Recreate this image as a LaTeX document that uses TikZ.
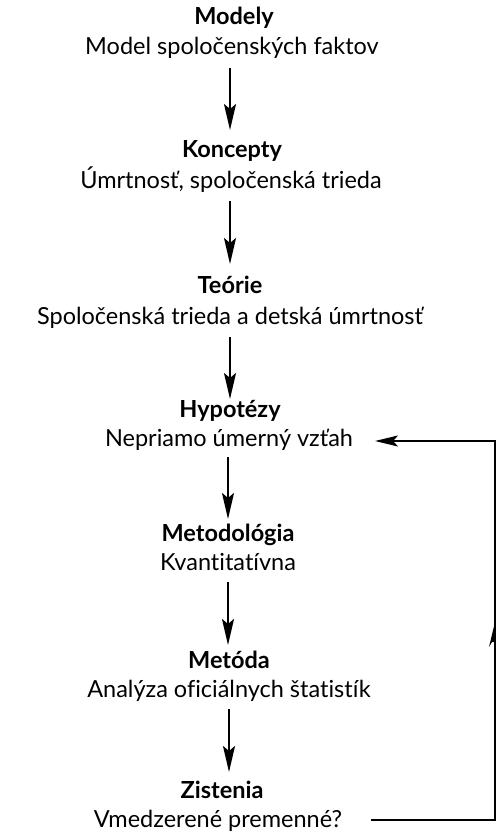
\documentclass[tikz,border=0pt]{standalone}
\usepackage{fontspec}
\setmainfont{Lato}[Ligatures=NoCommon]
\usetikzlibrary{arrows.meta}
\begin{document}
\begin{tikzpicture}[x=1pt,y=-1pt,
  head/.style={font=\fontsize{23.5}{26}\selectfont\bfseries, inner sep=0pt, anchor=base},
  body/.style={font=\fontsize{23.5}{26}\selectfont, inner sep=0pt, anchor=base},
  flow/.style={line width=2.2pt, -{Stealth[length=26pt,width=12pt,inset=5pt]}},
  fb/.style={line width=1.9pt}]
\useasboundingbox (0,0) rectangle (499,834);
\node[head] (h1) at (234,25) {Modely};
\node[body] (b1) at (232,55) {Model spoločenských faktov};
\node[head] (h2) at (232,158) {Koncepty};
\node[body] (b2) at (231,189) {Úmrtnosť, spoločenská trieda};
\node[head] (h3) at (230,293) {Teórie};
\node[body] (b3) at (230,324) {Spoločenská trieda a detská úmrtnosť};
\node[head] (h4) at (230,417) {Hypotézy};
\node[body] (b4) at (229,446) {Nepriamo úmerný vzťah};
\node[head] (h5) at (228,541) {Metodológia};
\node[body] (b5) at (228,570) {Kvantitatívna};
\node[head] (h6) at (229,668) {Metóda};
\node[body] (b6) at (229,697) {Analýza oficiálnych štatistík};
\node[head] (h7) at (222,798) {Zistenia};
\node[body] (b7) at (218,827) {Vmedzerené premenné?};
\coordinate (a1s) at (230,68);  \coordinate (a1e) at (230,130);
\coordinate (a2s) at (230,201); \coordinate (a2e) at (230,264);
\coordinate (a3s) at (230,337); \coordinate (a3e) at (230,399);
\coordinate (a4s) at (228,457); \coordinate (a4e) at (228,519);
\coordinate (a5s) at (228,582); \coordinate (a5e) at (228,645);
\coordinate (a6s) at (229,709); \coordinate (a6e) at (229,772);
\draw[flow] (a1s) -- (a1e);
\draw[flow] (a2s) -- (a2e);
\draw[flow] (a3s) -- (a3e);
\draw[flow] (a4s) -- (a4e);
\draw[flow] (a5s) -- (a5e);
\draw[flow] (a6s) -- (a6e);
\coordinate (fstart) at (371,820);
\coordinate (fc1) at (495,820);
\coordinate (fc2) at (495,441);
\coordinate (fend) at (375,441);
\draw[fb, -{Stealth[length=23pt,width=11pt,inset=5pt]}] (fstart) -- (fc1) -- (fc2) -- (fend);
\coordinate (mh) at (495,622);
\fill (mh) -- (489,647) -- (492,642) -- (495,642) -- cycle;
\end{tikzpicture}
\end{document}
